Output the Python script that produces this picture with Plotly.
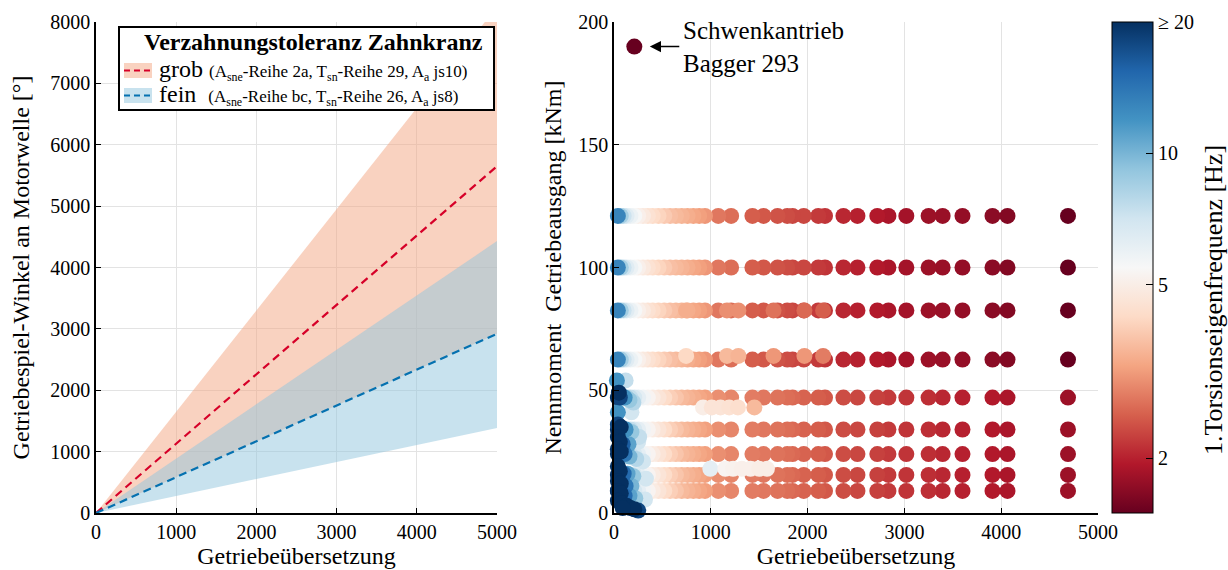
import plotly.graph_objects as go
import numpy as np

W, H = 1228, 570
FONT = "Liberation Serif"

# ---------------- Left chart data ----------------
ratio_span = [0, 5000]
grob_upper = [0, 8250]
grob_mean = [0, 5650]
grob_lower = [0, 2920]
fein_upper = [0, 4430]
fein_mean = [0, 2920]
fein_lower = [0, 1385]

# ---------------- Right chart data ----------------
torque_high_rows = [121, 100, 82.5, 62.5]
torque_low_rows = [47, 34, 24, 15.5, 9]
ratio_grad = [40, 70, 100, 130, 170, 210, 250, 300, 350, 400, 460, 520, 580, 640, 700, 760, 820, 880, 940]
ratio_main = [1077, 1210, 1430, 1545, 1690, 1790, 1845, 1960, 2110, 2180, 2370,
              2515, 2720, 2835, 3020, 3250, 3395, 3600, 3910, 4065, 4690]
freq_high_grad = [13, 8.5, 7.2, 6.4, 5.9, 5.5, 5.1, 4.8, 4.5, 4.3, 4.1, 3.9, 3.7, 3.6, 3.5, 3.4, 3.3, 3.2, 3.1]
freq_high_main = [2.75, 2.65, 2.5, 2.45, 2.4, 2.35, 2.3, 2.3, 2.2, 2.15, 2.05,
                  2.0, 1.95, 1.9, 1.85, 1.8, 1.78, 1.75, 1.7, 1.65, 1.5]
freq_low_grad = [20, 12, 9.5, 8.5, 7.5, 6.8, 6.2, 5.7, 5.3, 4.9, 4.6, 4.3, 4.0, 3.8, 3.6, 3.5, 3.4, 3.3, 3.2]
freq_low_main = [3.0, 2.9, 2.8, 2.75, 2.7, 2.65, 2.6, 2.55, 2.5, 2.45, 2.35,
                 2.3, 2.25, 2.2, 2.15, 2.1, 2.05, 2.0, 1.95, 1.9, 1.8]

extra_x = [745, 1167, 1285, 1648, 1967, 2160,
           745, 1167, 1285, 1648, 1967, 2160,
           920, 1010, 1100, 1190, 1280, 1450,
           995, 1150, 1230, 1320, 1410, 1500, 1580]
extra_y = [82.5, 82.5, 82.5, 82.5, 82.5, 82.5,
           64, 64, 64, 64, 64, 64,
           43, 43, 43, 43, 43, 43,
           18, 18, 18, 18, 18, 18, 18]
extra_f = [3.4, 3.0, 3.0, 2.7, 2.6, 2.5,
           4.2, 3.6, 3.5, 3.1, 3.1, 2.8,
           5.0, 4.6, 4.6, 4.5, 4.4, 3.6,
           6.2, 5.3, 5.2, 5.1, 5.1, 5.0, 5.0]

cluster_x = [30, 120, 50, 60, 110, 160, 200, 40, 180, 40, 70, 120, 180, 260,
             40, 60, 90, 150, 250, 40, 70, 110, 160, 230, 300, 40, 60, 100, 140,
             200, 330, 40, 70, 120, 180, 40, 70, 110, 160, 220, 320, 40, 80, 130,
             170, 210, 250, 90]
cluster_y = [54, 54, 49, 47, 47, 46, 45, 41, 41, 36, 35, 34, 33, 31,
             31, 29, 28, 28, 29, 26, 25, 24, 23, 22, 21, 19, 17, 16, 16,
             15, 14, 13, 12, 11, 11, 9, 8, 7, 7, 6, 5.5, 5, 4, 3,
             2, 1.5, 1, 2]
cluster_f = [12, 7.5, 20, 18, 12, 9, 8, 12, 7, 18, 20, 12, 9, 7.5,
             20, 20, 16, 11, 7, 20, 20, 14, 10, 8, 7, 20, 20, 15, 11,
             9, 7, 20, 20, 14, 10, 20, 20, 15, 11, 9, 7, 20, 20, 20,
             20, 20, 18, 20]

special_x = [210]
special_y = [190]
special_f = [1.5]

freq_min, freq_max = 1.5, 20
cbar_major = [2, 5, 10, 20]
cbar_labels = ["2", "5", "10", "≥ 20"]
cbar_minor = [3, 4, 6, 7, 8, 9]

rdbu = ['rgb(103,0,31)', 'rgb(178,24,43)', 'rgb(214,96,77)', 'rgb(244,165,130)',
        'rgb(253,219,199)', 'rgb(247,247,247)', 'rgb(209,229,240)', 'rgb(146,197,222)',
        'rgb(67,147,195)', 'rgb(33,102,172)', 'rgb(5,48,97)']
colorscale = [[i / (len(rdbu) - 1), c] for i, c in enumerate(rdbu)]

# ---------------- Assemble scatter points ----------------
sx, sy, sf = [], [], []
ratios_row = ratio_grad + ratio_main
for rows, fg, fm in [(torque_high_rows, freq_high_grad, freq_high_main),
                     (torque_low_rows, freq_low_grad, freq_low_main)]:
    fr = fg + fm
    for t in rows:
        for xv, fv in reversed(list(zip(ratios_row, fr))):
            sx.append(xv); sy.append(t); sf.append(fv)
sx += extra_x; sy += extra_y; sf += extra_f
order = np.argsort(cluster_f, kind="stable")
sx += [cluster_x[i] for i in order]
sy += [cluster_y[i] for i in order]
sf += [cluster_f[i] for i in order]
sx += special_x; sy += special_y; sf += special_f

fig = go.Figure()

# Left bands
fig.add_trace(go.Scatter(x=ratio_span, y=grob_lower, mode="lines", line=dict(width=0),
                         showlegend=False, hoverinfo="skip", xaxis="x", yaxis="y"))
fig.add_trace(go.Scatter(x=ratio_span, y=grob_upper, mode="lines", line=dict(width=0),
                         fill="tonexty", fillcolor="rgba(244,165,130,0.5)",
                         showlegend=False, xaxis="x", yaxis="y"))
fig.add_trace(go.Scatter(x=ratio_span, y=fein_lower, mode="lines", line=dict(width=0),
                         showlegend=False, hoverinfo="skip", xaxis="x", yaxis="y"))
fig.add_trace(go.Scatter(x=ratio_span, y=fein_upper, mode="lines", line=dict(width=0),
                         fill="tonexty", fillcolor="rgba(146,197,222,0.5)",
                         showlegend=False, xaxis="x", yaxis="y"))
fig.add_trace(go.Scatter(x=ratio_span, y=grob_mean, mode="lines",
                         line=dict(color="rgb(214,0,40)", width=2.2, dash="8px,5px"),
                         showlegend=False, xaxis="x", yaxis="y"))
fig.add_trace(go.Scatter(x=ratio_span, y=fein_mean, mode="lines",
                         line=dict(color="rgb(5,113,176)", width=2.2, dash="8px,5px"),
                         showlegend=False, xaxis="x", yaxis="y"))

CB_LEFT, CB_RIGHT, CB_TOP, CB_BOT = 1112, 1153, 22, 513

# Right scatter
fig.add_trace(go.Scatter(
    x=sx, y=sy, mode="markers", xaxis="x2", yaxis="y2", cliponaxis=False,
    marker=dict(size=16, color=np.log10(sf), colorscale=colorscale,
                cmin=np.log10(freq_min), cmax=np.log10(freq_max), line=dict(width=0),
                showscale=True,
                colorbar=dict(
                    x=CB_LEFT / W, xanchor="left", y=1 - (CB_TOP + CB_BOT) / 2 / H, yanchor="middle",
                    xpad=0, ypad=0,
                    thickness=CB_RIGHT - CB_LEFT, thicknessmode="pixels",
                    len=CB_BOT - CB_TOP, lenmode="pixels",
                    outlinewidth=1, outlinecolor="black",
                    tickvals=list(np.log10(cbar_major)), ticktext=cbar_labels,
                    ticks="inside", ticklen=7, tickcolor="black", tickwidth=1,
                    tickfont=dict(family=FONT, size=20, color="black"),
                )),
    showlegend=False))

axis_common = dict(showline=True, linecolor="black", linewidth=1.5, ticks="inside",
                   ticklen=5, tickcolor="black", showgrid=True, gridcolor="#e3e3e3",
                   gridwidth=1, zeroline=False, automargin=False,
                   tickfont=dict(family=FONT, size=20, color="black"))
TITLE_FONT = dict(family=FONT, size=24, color="black")

def px_x(p):
    return p / W

def px_y(p):
    return 1 - p / H

fig.update_layout(
    width=W, height=H, template="none",
    margin=dict(l=0, r=0, t=0, b=0),
    paper_bgcolor="white", plot_bgcolor="white",
    showlegend=False,
    xaxis=dict(domain=[px_x(96), px_x(497)], range=[0, 5000], dtick=1000, anchor="y",
               title=dict(text="Getriebeübersetzung", standoff=4, font=TITLE_FONT),
               **axis_common),
    yaxis=dict(domain=[px_y(513), px_y(22)], range=[0, 8000], dtick=1000, anchor="x",
               title=dict(text="Getriebespiel-Winkel an Motorwelle [°]", standoff=14, font=TITLE_FONT),
               **axis_common),
    xaxis2=dict(domain=[px_x(614), px_x(1098)], range=[0, 5000], dtick=1000, anchor="y2",
                title=dict(text="Getriebeübersetzung", standoff=4, font=TITLE_FONT),
                **axis_common),
    yaxis2=dict(domain=[px_y(513), px_y(22)], range=[0, 200], dtick=50, anchor="x2",
                title=dict(text="Nennmoment  Getriebeausgang [kNm]", standoff=10, font=TITLE_FONT),
                **axis_common),
)

# Manual legend box + colorbar minor ticks
shapes = [
    dict(type="rect", xref="paper", yref="paper", x0=px_x(119), x1=px_x(494),
         y0=px_y(110), y1=px_y(27), line=dict(color="black", width=2), fillcolor="white",
         layer="above"),
    dict(type="rect", xref="paper", yref="paper", x0=px_x(124), x1=px_x(152),
         y0=px_y(78), y1=px_y(63), line=dict(width=0), fillcolor="rgba(244,165,130,0.5)",
         layer="above"),
    dict(type="line", xref="paper", yref="paper", x0=px_x(124), x1=px_x(152),
         y0=px_y(70.5), y1=px_y(70.5), line=dict(color="rgb(214,0,40)", width=2.2, dash="6px,4px"),
         layer="above"),
    dict(type="rect", xref="paper", yref="paper", x0=px_x(124), x1=px_x(152),
         y0=px_y(103), y1=px_y(88), line=dict(width=0), fillcolor="rgba(146,197,222,0.5)",
         layer="above"),
    dict(type="line", xref="paper", yref="paper", x0=px_x(124), x1=px_x(152),
         y0=px_y(95.5), y1=px_y(95.5), line=dict(color="rgb(5,113,176)", width=2.2, dash="6px,4px"),
         layer="above"),
]
lmin, lmax = np.log10(freq_min), np.log10(freq_max)
for m in cbar_minor:
    frac = (np.log10(m) - lmin) / (lmax - lmin)
    yp = CB_BOT - frac * (CB_BOT - CB_TOP)
    shapes.append(dict(type="line", xref="paper", yref="paper",
                       x0=px_x(CB_RIGHT - 4), x1=px_x(CB_RIGHT), y0=px_y(yp), y1=px_y(yp),
                       line=dict(color="black", width=1), layer="above"))
fig.update_layout(shapes=shapes)

annotations = [
    dict(xref="paper", yref="paper", x=px_x(313), y=px_y(42), showarrow=False,
         text="<b>Verzahnungstoleranz Zahnkranz</b>", xanchor="center", yanchor="middle",
         font=dict(family=FONT, size=24, color="black")),
    dict(xref="paper", yref="paper", x=px_x(157), y=px_y(70), showarrow=False,
         text="grob <span style='font-size:17px'>(A<sub>sne</sub>-Reihe 2a, T<sub>sn</sub>-Reihe 29, A<sub>a</sub> js10)</span>",
         xanchor="left", yanchor="middle", font=dict(family=FONT, size=24, color="black")),
    dict(xref="paper", yref="paper", x=px_x(157), y=px_y(95), showarrow=False,
         text="fein  <span style='font-size:17px'>(A<sub>sne</sub>-Reihe bc, T<sub>sn</sub>-Reihe 26, A<sub>a</sub> js8)</span>",
         xanchor="left", yanchor="middle", font=dict(family=FONT, size=24, color="black")),
    dict(xref="x2", yref="y2", x=370, y=190, axref="x2", ayref="y2", ax=690, ay=190,
         text="", showarrow=True, arrowhead=2, arrowsize=1.4, arrowwidth=1.6, arrowcolor="black"),
    dict(xref="x2", yref="y2", x=690, y=190, showarrow=False, align="left",
         text="Schwenkantrieb<br>Bagger 293", xanchor="left", yanchor="middle",
         font=dict(family=FONT, size=25, color="black")),
    dict(xref="paper", yref="paper", x=px_x(1213), y=px_y(300), showarrow=False,
         text="1.Torsionseigenfrequenz [Hz]", textangle=-90, xanchor="center", yanchor="middle",
         font=dict(family=FONT, size=26, color="black")),
]
fig.update_layout(annotations=annotations)

fig.write_html("out.html")
